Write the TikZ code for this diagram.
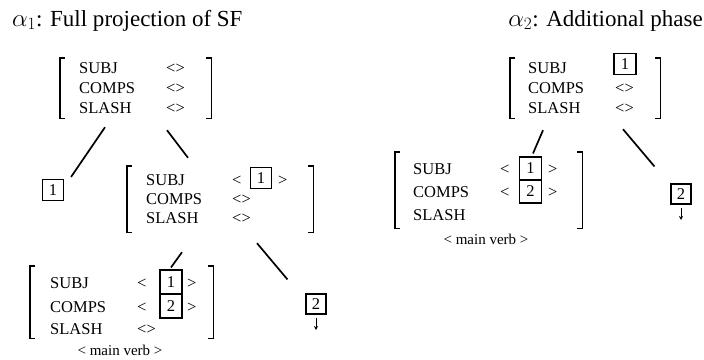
\documentclass[tikz,border=0pt]{standalone}
\usepackage{fontspec}
\setmainfont{Liberation Serif}
\usetikzlibrary{arrows.meta}
\newcommand\fsm{\fontsize{16.5}{19}\selectfont}
\newcommand\fst{\fontsize{23}{27}\selectfont}
\newcommand\fsv{\fontsize{15}{18}\selectfont}
\newcommand\avmbr[1]{%
 \draw[brk] ([xshift=5pt]#1.north west) -- (#1.north west) -- (#1.south west) -- ([xshift=5pt]#1.south west);
 \draw[brk] ([xshift=-5pt]#1.north east) -- (#1.north east) -- (#1.south east) -- ([xshift=-5pt]#1.south east);}
\begin{document}
\begin{tikzpicture}[x=1pt,y=-1pt,
  lbl/.style={anchor=base west, inner sep=0pt, font=\fsm},
  ttl/.style={inner sep=0pt, font=\fst},
  avm/.style={inner sep=0pt, draw=none},
  brk/.style={line width=1.4pt},
  nbox/.style={draw, line width=1.1pt, minimum width=21pt, minimum height=21pt, inner sep=0pt, font=\fsm},
  edge/.style={line width=1.7pt},
  mv/.style={font=\fsv, inner sep=0pt, anchor=base},
  down/.style={line width=1pt, -{Stealth[length=4pt,width=4pt]}, shorten <=3pt}
]
\useasboundingbox (0,0) rectangle (704,359);

% titles
\node[ttl, anchor=base west] (t1) at (12,26) {$\alpha_1$: Full projection of SF};
\node[ttl, anchor=base east] (t2) at (703,26) {$\alpha_2$: Additional phase};

% ---------- alpha 1 ----------
\node[avm, minimum width=151pt, minimum height=60pt] (A) at (135.5,88) {};
\avmbr{A}
\node[lbl] (As) at (79,73) {SUBJ};
\node[lbl] (Ac) at (79,93) {COMPS};
\node[lbl] (Al) at (79,113) {SLASH};
\node[lbl] (Asv) at (166,73) {<>};
\node[lbl] (Acv) at (166,93) {<>};
\node[lbl] (Alv) at (166,113) {<>};

\node[nbox] (L1) at (53,190) {1};

\node[avm, minimum width=186pt, minimum height=66pt] (B) at (220,199) {};
\avmbr{B}
\node[lbl] (Bs) at (146,185) {SUBJ};
\node[lbl] (Bc) at (146,204) {COMPS};
\node[lbl] (Bl) at (146,223) {SLASH};
\node[lbl] (Bsl) at (232,185) {<};
\node[nbox] (B1) at (261,178) {1};
\node[lbl] (Bsr) at (278,185) {>};
\node[lbl] (Bcv) at (232,204) {<>};
\node[lbl] (Blv) at (232,223) {<>};

\draw[edge] ([xshift=-30.5pt,yshift=-9pt]A.south) -- ([xshift=7pt,yshift=2pt]L1.north east);
\draw[edge] ([xshift=31.5pt,yshift=-12pt]A.south) -- ([xshift=-32pt,yshift=8pt]B.north);

\node[avm, minimum width=183pt, minimum height=72pt] (C) at (121.5,302) {};
\avmbr{C}
\node[lbl] (Cs) at (50,288) {SUBJ};
\node[lbl] (Cc) at (50,312) {COMPS};
\node[lbl] (Cl) at (50,334) {SLASH};
\node[lbl] (Csl) at (137,288) {<};
\node[lbl] (Ccl) at (137,312) {<};
\node[nbox, minimum width=22pt, minimum height=24pt] (C1) at (171,282) {1};
\node[nbox, minimum width=22pt, minimum height=24pt] (C2) at (171,306) {2};
\node[lbl] (Csr) at (187,288) {>};
\node[lbl] (Ccr) at (187,312) {>};
\node[lbl] (Clv) at (137,334) {<>};
\node[mv] (Cmv) at (120,355) {< main verb >};

\node[nbox, minimum width=20pt, minimum height=20pt] (R2a) at (316,304) {2};
\coordinate (R2aend) at (316,330);
\draw[down] (R2a) -- (R2aend);

\draw[edge] ([xshift=-38pt,yshift=-20pt]B.south) -- ([yshift=2pt]C1.north);
\draw[edge] ([xshift=37pt,yshift=-11pt]B.south) -- ([xshift=-18pt,yshift=14pt]R2a.north west);

% ---------- alpha 2 ----------
\node[avm, minimum width=150pt, minimum height=60pt] (E) at (585,88) {};
\avmbr{E}
\node[lbl] (Es) at (528,73) {SUBJ};
\node[lbl] (Ec) at (528,93) {COMPS};
\node[lbl] (El) at (528,113) {SLASH};
\node[nbox, minimum width=22pt] (E1) at (625,64) {1};
\node[lbl] (Ecv) at (615,93) {<>};
\node[lbl] (Elv) at (615,113) {<>};

\node[avm, minimum width=187pt, minimum height=76pt] (D) at (488.5,190) {};
\avmbr{D}
\node[lbl] (Ds) at (413,174) {SUBJ};
\node[lbl] (Dc) at (413,197) {COMPS};
\node[lbl] (Dl) at (413,220) {SLASH};
\node[lbl] (Dsl) at (500,174) {<};
\node[lbl] (Dcl) at (500,197) {<};
\node[nbox, minimum width=22pt, minimum height=23pt] (D1) at (530.5,168.5) {1};
\node[nbox, minimum width=22pt, minimum height=23pt] (D2) at (530.5,191.5) {2};
\node[lbl] (Dsr) at (548,174) {>};
\node[lbl] (Dcr) at (548,197) {>};
\node[mv] (Dmv) at (486,244) {< main verb >};

\node[nbox, minimum width=20pt, minimum height=20pt] (R2b) at (681,194) {2};
\coordinate (R2bend) at (681,220);
\draw[down] (R2b) -- (R2bend);

\draw[edge] ([xshift=-42pt,yshift=-12pt]E.south) -- ([xshift=2.5pt,yshift=3pt]D1.north);
\draw[edge] ([xshift=38pt,yshift=-11pt]E.south) -- ([xshift=-16pt,yshift=17pt]R2b.north west);
\end{tikzpicture}
\end{document}
